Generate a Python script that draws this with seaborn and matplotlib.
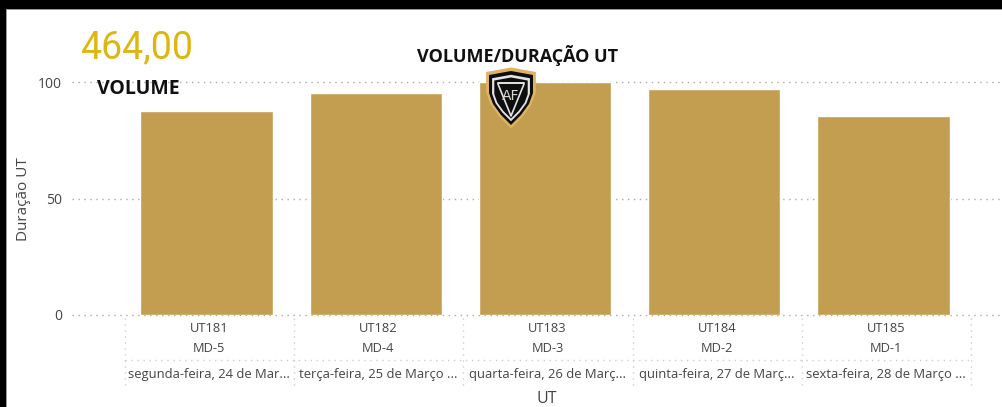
import numpy as np
import pandas as pd
import matplotlib
matplotlib.use('Agg')
import matplotlib.pyplot as plt
from matplotlib.patches import Polygon, Rectangle
import seaborn as sns

ut = ['UT181', 'UT182', 'UT183', 'UT184', 'UT185']
md = ['MD-5', 'MD-4', 'MD-3', 'MD-2', 'MD-1']
datas = ['segunda-feira, 24 de Mar...', 'terça-feira, 25 de Março ...', 'quarta-feira, 26 de Març...',
         'quinta-feira, 27 de Març...', 'sexta-feira, 28 de Março ...']
duracao = [87.4, 95.2, 100, 97.2, 85.2]
yticks = [0, 50, 100]

W, H = 1003, 407
GOLD = '#C39D50'
TXT = '#444444'
DOT = '#A8A8A8'
CELL = '#CCCCCC'

sns.set_theme(style='white')
plt.rcParams['font.family'] = ['Open Sans', 'DejaVu Sans']

df = pd.DataFrame({'ut': ut, 'duracao': duracao})

fig = plt.figure(figsize=(W / 100, H / 100), dpi=100, facecolor='white')
ax = fig.add_axes([72 / W, 1 - 315 / H, (1003 - 72) / W, (315 - 82) / H])
ax.patch.set_alpha(0)

for v in yticks:
    ax.axhline(v, color=DOT, lw=1, ls=(0, (1, 3.3)), zorder=0, clip_on=False)
sns.barplot(data=df, x='ut', y='duracao', color=GOLD, saturation=1, width=0.78, ax=ax, zorder=2)

# posicoes em pixel -> eixo x categorico
x0 = -(206.5 - 72) / 169.25
ax.set_xlim(x0, x0 + (1003 - 72) / 169.25)
ax.set_ylim(0, 100)
sns.despine(ax=ax, left=True, bottom=True)
ax.set_xticks([])
ax.set_xlabel('')
ax.set_ylabel('')
ax.set_yticks(yticks)
ax.tick_params(axis='y', length=0, pad=7, labelsize=10, labelcolor=TXT)


def px(x, y):
    return x / W, 1 - y / H


def line(xs, ys, **kw):
    fig.add_artist(plt.Line2D([x / W for x in xs], [1 - y / H for y in ys], **kw))


# grade dos rotulos
for i in range(6):
    xc = 125 + i * 169.2
    line([xc, xc], [318, 385], color=CELL, lw=1, ls=(0, (1, 3.3)))
line([125, 971], [360, 360], color=CELL, lw=1, ls=(0, (1, 3.3)))

for i in range(5):
    cx = 206.5 + i * 169.25
    fig.text(*px(cx + 2.5, 329), ut[i], ha='center', va='center', fontsize=9.3, color=TXT)
    fig.text(*px(cx + 2.5, 348), md[i], ha='center', va='center', fontsize=9.3, color=TXT)
    fig.text(*px(cx + 2.5, 374.5), datas[i], ha='center', va='center', fontsize=9.4, color=TXT)

fig.text(*px(547, 399), 'UT', ha='center', va='center', fontsize=11.5, color=TXT)
fig.text(*px(24, 199), 'Duração UT', rotation=90, ha='center', va='center', fontsize=11, color=TXT)

# cartao e titulos
fig.text(*px(137, 48), '464,00', ha='center', va='center', fontsize=27, color='#DDB60F',
         family=['Roboto', 'DejaVu Sans'])
fig.text(*px(138, 89), 'VOLUME', ha='center', va='center', fontsize=14, fontweight='bold', color='#111111')
fig.text(*px(518, 55), 'VOLUME/DURAÇÃO UT', ha='center', va='center', fontsize=13, fontweight='bold', color='#111111')

# escudo
cx_esc, cy_esc = 511, 98


def shield(scale):
    half = [(0, -27), (22, -23), (22, -5), (18, 6), (10, 17), (0, 27)]
    right = [(a * scale, b * scale) for a, b in half]
    left = [(-a, b) for a, b in right[-2:0:-1]]
    return [px(cx_esc + a, cy_esc + b) for a, b in right + left]


for s, c in [(1.13, '#E0B45E'), (1.0, '#0E0E0E'), (0.86, '#E4E4E4'), (0.76, '#0E0E0E')]:
    fig.add_artist(Polygon(shield(s), closed=True, transform=fig.transFigure, facecolor=c, edgecolor='none', zorder=5))
line([498, 524], [83, 83], color='#E4E4E4', lw=1.4, zorder=6)
line([498, 511, 524], [84, 116, 84], color='#E4E4E4', lw=1.2, zorder=6)
fig.text(*px(511, 96), 'AF', ha='center', va='center', fontsize=10, color='#D8D8D8', zorder=6, family=['DejaVu Sans'])

# moldura preta
for x, y, w, h, c in [(0, 9, W, 1.3, '#999999'), (6, 0, 1.3, H, '#999999'), (0, 0, W, 9, 'black'), (0, 0, 6, H, 'black')]:
    fig.add_artist(Rectangle(px(x, y + h), w / W, h / H, transform=fig.transFigure, facecolor=c,
                             edgecolor='none', zorder=7))

plt.savefig('out.png', dpi=100)
